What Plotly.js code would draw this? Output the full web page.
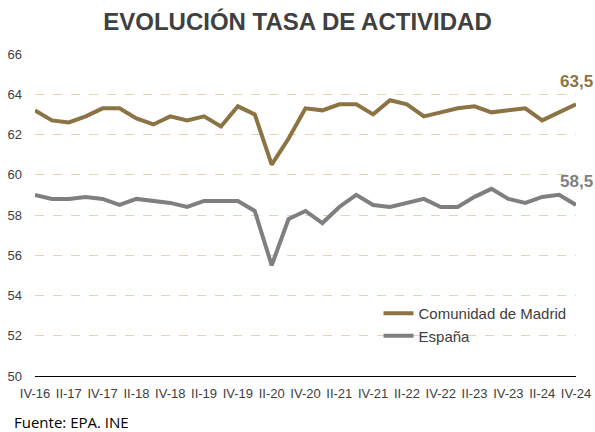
<!DOCTYPE html>
<html><head><meta charset="utf-8">
<script src="https://cdn.plot.ly/plotly-3.0.1.min.js"></script>
<style>body{margin:0;padding:0;background:#fff}#c{width:595px;height:432px}</style>
</head><body><div id="c"></div>
<script>
const quarters = ["IV-16","I-17","II-17","III-17","IV-17","I-18","II-18","III-18","IV-18","I-19","II-19","III-19","IV-19","I-20","II-20","III-20","IV-20","I-21","II-21","III-21","IV-21","I-22","II-22","III-22","IV-22","I-23","II-23","III-23","IV-23","I-24","II-24","III-24","IV-24"];
const madrid = [63.2,62.7,62.6,62.9,63.3,63.3,62.8,62.5,62.9,62.7,62.9,62.4,63.4,63.0,60.5,61.8,63.3,63.2,63.5,63.5,63.0,63.7,63.5,62.9,63.1,63.3,63.4,63.1,63.2,63.3,62.7,63.1,63.5];
const espana = [59.0,58.8,58.8,58.9,58.8,58.5,58.8,58.7,58.6,58.4,58.7,58.7,58.7,58.2,55.5,57.8,58.2,57.6,58.4,59.0,58.5,58.4,58.6,58.8,58.4,58.4,58.9,59.3,58.8,58.6,58.9,59.0,58.5];
const tickLabels = quarters.filter((q,i)=>i%2===0);
const yTicks = [50,52,54,56,58,60,62,64,66];
const seriesNames = ["Comunidad de Madrid","España"];
const colMadrid = "#8c7343", colEsp = "#7f7f7f";

const traces = [
  {x: quarters, y: madrid, name: seriesNames[0], mode: "lines", line: {color: colMadrid, width: 4}},
  {x: quarters, y: espana, name: seriesNames[1], mode: "lines", line: {color: colEsp, width: 4}}
];
const last = quarters.length - 1;
const layout = {
  width: 595, height: 432,
  margin: {l: 35, r: 19, t: 54, b: 56},
  paper_bgcolor: "#fff", plot_bgcolor: "#fff",
  font: {family: "Liberation Sans, Arial, sans-serif", color: "#404040", size: 13},
  title: {text: "<b>EVOLUCIÓN TASA DE ACTIVIDAD</b>", x: 0.5, xanchor: "center", y: 0.95, yanchor: "middle",
          font: {size: 24, color: "#404040", family: "Liberation Sans, Arial, sans-serif"}},
  xaxis: {type: "category", tickmode: "array", tickvals: tickLabels, ticktext: tickLabels,
          range: [0, last], showgrid: false, showline: true, linecolor: "#000", linewidth: 1,
          ticks: "", tickfont: {size: 13, color: "#404040"}, ticklabelstandoff: 5, fixedrange: true},
  yaxis: {range: [50, 66], tickvals: yTicks, showgrid: true, gridcolor: "#e6d3b3", griddash: "dash",
          gridwidth: 1, zeroline: false, showline: false, ticks: "", tickfont: {size: 13, color: "#404040"},
          ticklabelstandoff: 12},
  showlegend: true,
  legend: {x: 0.635, y: 0.245, xanchor: "left", yanchor: "top", bgcolor: "rgba(0,0,0,0)",
           font: {size: 15, color: "#404040"}, tracegroupgap: 0},
  annotations: [
    {x: quarters[last], y: madrid[last], xref: "x", yref: "y", text: "<b>" + madrid[last].toFixed(1).replace(".", ",") + "</b>",
     showarrow: false, yshift: 23, xanchor: "center", font: {size: 17, color: colMadrid}},
    {x: quarters[last], y: espana[last], xref: "x", yref: "y", text: "<b>" + espana[last].toFixed(1).replace(".", ",") + "</b>",
     showarrow: false, yshift: 23, xanchor: "center", font: {size: 17, color: colEsp}},
    {x: 0, y: 0, xref: "paper", yref: "paper", xanchor: "left", yanchor: "bottom", showarrow: false,
     text: "Fuente: EPA. INE", font: {size: 15, color: "#000", family: "Open Sans, sans-serif"},
     xshift: -23, yshift: -58}
  ]
};
Plotly.newPlot("c", traces, layout, {displayModeBar: false, staticPlot: true});
</script></body></html>
